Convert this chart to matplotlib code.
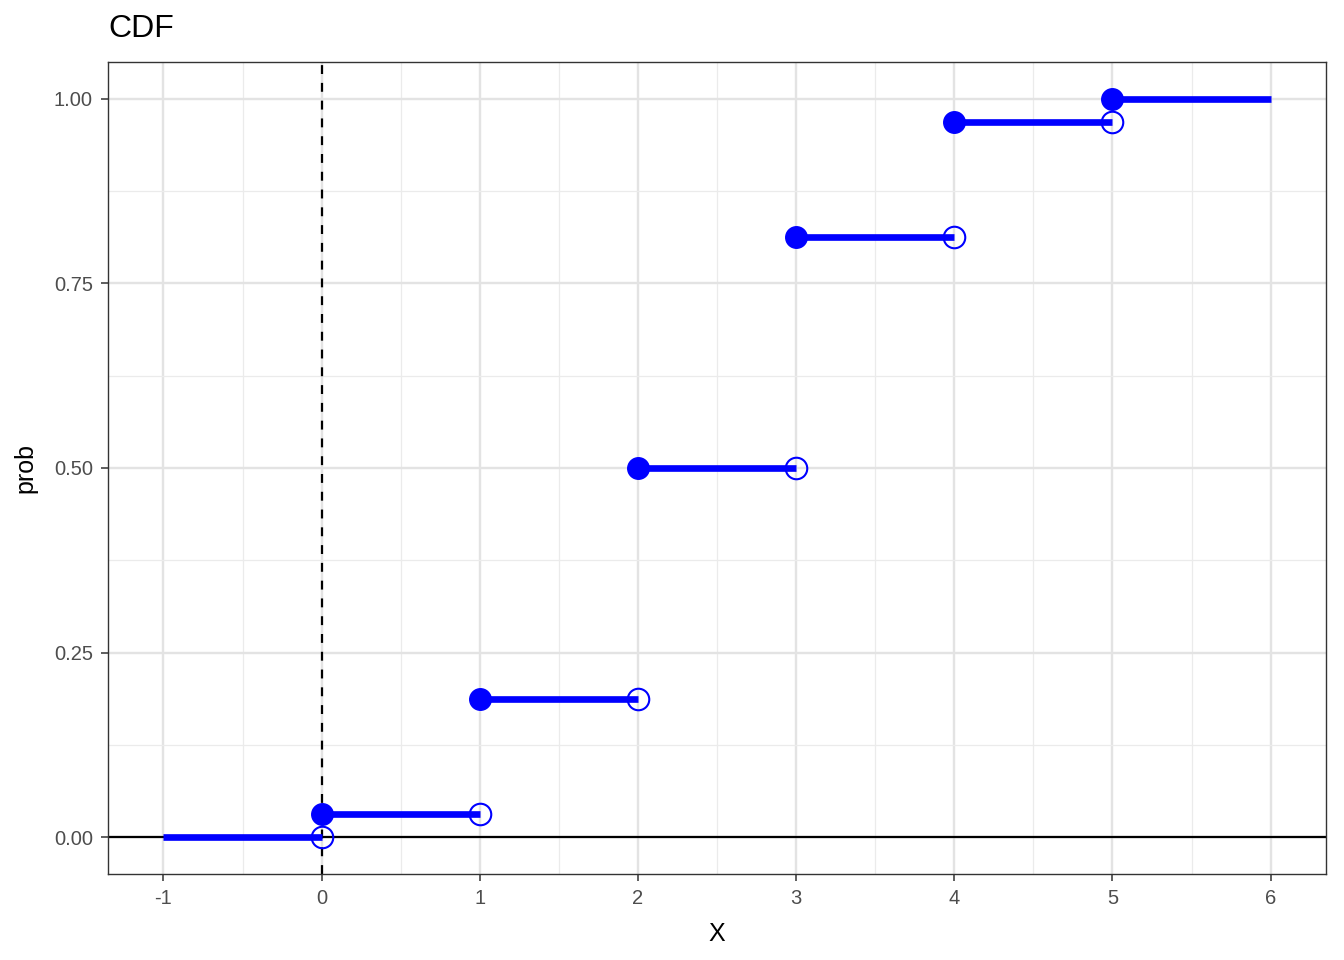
import numpy as np
import matplotlib
matplotlib.use("Agg")
import matplotlib.pyplot as plt
from matplotlib.ticker import MultipleLocator

# Binomial(5, 0.5) cdf steps
x_start = [-1, 0, 1, 2, 3, 4, 5]
x_end = [0, 1, 2, 3, 4, 5, 6]
prob = [0.0, 0.03125, 0.1875, 0.5, 0.8125, 0.96875, 1.0]
x_ticks = [-1, 0, 1, 2, 3, 4, 5, 6]
y_ticks = [0.0, 0.25, 0.5, 0.75, 1.0]

plt.rcParams['font.family'] = ['Liberation Sans', 'DejaVu Sans']

fig = plt.figure(figsize=(13.44, 9.6), dpi=100)
ax = fig.add_axes([0.0804, 0.0896, 0.9062, 0.8458])

ax.set_xlim(-1.35, 6.35)
ax.set_ylim(-0.05, 1.05)

ax.set_xticks(x_ticks)
ax.set_xticklabels([str(t) for t in x_ticks])
ax.set_yticks(y_ticks)
ax.set_yticklabels(["%.2f" % t for t in y_ticks])
ax.xaxis.set_minor_locator(MultipleLocator(0.5))
ax.yaxis.set_minor_locator(MultipleLocator(0.125))

ax.grid(which='major', color='#e3e3e3', linewidth=1.7, zorder=0)
ax.grid(which='minor', color='#ebebeb', linewidth=0.9, zorder=0)
ax.set_axisbelow(True)
for s in ax.spines.values():
    s.set_color('#333333')
    s.set_linewidth(1.0)
ax.tick_params(which='major', length=5, color='#333333', width=1.1,
               labelsize=14.5, labelcolor='#4d4d4d', pad=6)
ax.tick_params(which='minor', length=0)

ax.axhline(0, color='black', linewidth=1.6, zorder=1)
ax.axvline(0, color='black', linewidth=1.6, linestyle=(0, (4, 4)), zorder=1)

ax.hlines(prob, x_start, x_end, color='blue', linewidth=4.8,
          capstyle='butt', zorder=2)
# closed points at left end (skip first segment starting at -1)
ax.plot(x_start[1:], prob[1:], 'o', color='blue', markersize=15.5, zorder=3)
# open points at right end (skip last segment ending at 6)
ax.plot(x_end[:-1], prob[:-1], 'o', markerfacecolor='none',
        markeredgecolor='blue', markersize=15.5, markeredgewidth=1.5, zorder=3)

ax.set_xlabel('X', fontsize=18, labelpad=10)
ax.set_ylabel('prob', fontsize=18, labelpad=12)
ax.set_title('CDF', fontsize=23, loc='left', pad=18)

fig.savefig('out.png', dpi=100)
